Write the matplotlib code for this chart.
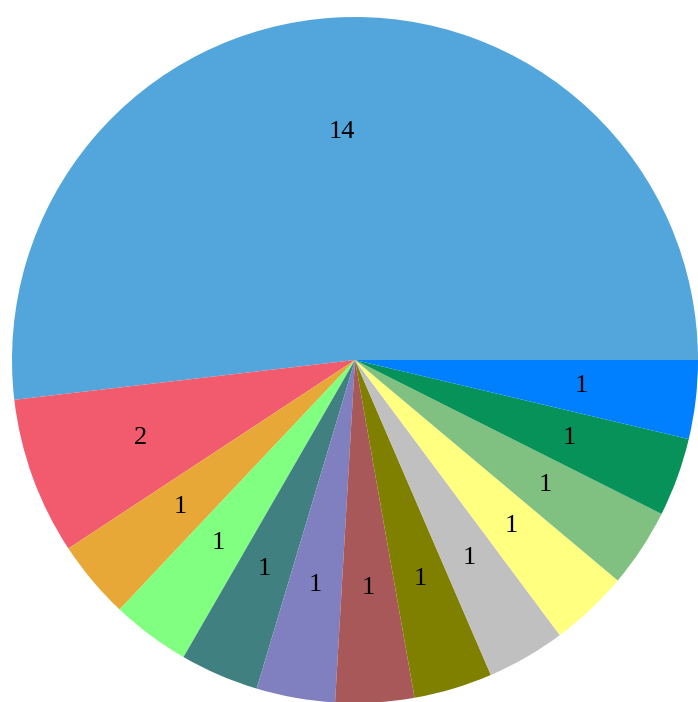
import matplotlib
matplotlib.use("Agg")
import matplotlib.pyplot as plt

# slice values, counterclockwise from 3 o'clock
values = [14, 2, 1, 1, 1, 1, 1, 1, 1, 1, 1, 1, 1]
colors = ["#52a6dc", "#f25a6e", "#e8a838", "#80ff80", "#408080", "#8080c0",
          "#a85858", "#808000", "#c0c0c0", "#ffff80", "#80c080", "#07925a",
          "#0080ff"]

total = sum(values)

fig = plt.figure(figsize=(6.98, 7.02), dpi=100)
# pie centre ~ (355, 360) px, radius ~343 px
r = 343
cx, cy = 355, 702 - 360
ax = fig.add_axes([(cx - r) / 698, (cy - r) / 702, 2 * r / 698, 2 * r / 702])

ax.pie(values, colors=colors, startangle=0, counterclock=True, radius=1,
       autopct=lambda p: f"{round(p * total / 100):d}", pctdistance=0.665,
       wedgeprops={"linewidth": 0},
       textprops={"fontsize": 19, "family": "Liberation Serif", "color": "black"})
ax.set_xlim(-1, 1)
ax.set_ylim(-1, 1)
ax.set_aspect("equal")
ax.axis("off")

fig.savefig("out.png", dpi=100)
